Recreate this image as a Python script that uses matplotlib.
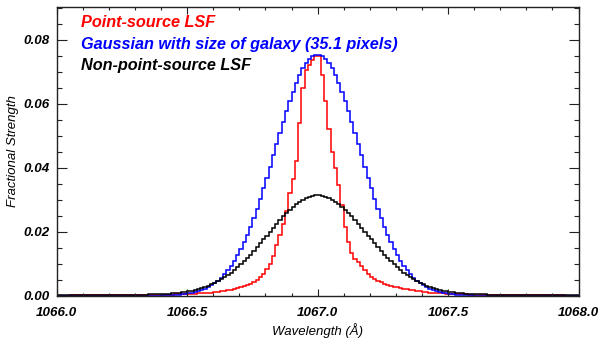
import numpy as np
import matplotlib
matplotlib.use("Agg")
import matplotlib.pyplot as plt

# ---------------- data ----------------
# coarse tail bins (1066.0-1066.4 and 1067.6-1068.0), fine bins 0.0125 A in the core
tail_left_edges = np.linspace(1066.0, 1066.4, 9)
core_edges = np.linspace(1066.4, 1067.6, 97)
tail_right_edges = np.linspace(1067.6, 1068.0, 9)

red_tail_left = [0.00006, 0.00008, 0.0001, 0.00012, 0.00014, 0.00017, 0.0002, 0.00025]
red_core = [
    0.0003, 0.0003, 0.0003, 0.0003, 0.0004, 0.0004, 0.0004, 0.0005,
    0.0005, 0.0006, 0.0006, 0.0007, 0.0007, 0.0008, 0.0009, 0.0010,
    0.0011, 0.0012, 0.0014, 0.0015, 0.0017, 0.0019, 0.0021, 0.0024,
    0.0027, 0.0030, 0.0034, 0.0038, 0.0043, 0.0049, 0.0057, 0.0068,
    0.0082, 0.0100, 0.0125, 0.0160, 0.0190, 0.0225, 0.0265, 0.0320,
    0.0365, 0.0420, 0.0540, 0.0650, 0.0705, 0.0722, 0.0737, 0.0750,
    0.0750, 0.0690, 0.0610, 0.0520, 0.0450, 0.0400, 0.0345, 0.0285,
    0.0215, 0.0168, 0.0135, 0.0115, 0.0105, 0.0092, 0.0080, 0.0069,
    0.0060, 0.0053, 0.0047, 0.0042, 0.0038, 0.0034, 0.0031, 0.0028,
    0.0026, 0.0024, 0.0022, 0.0020, 0.0018, 0.0017, 0.0015, 0.0014,
    0.0012, 0.0011, 0.0010, 0.0009, 0.0008, 0.0008, 0.0007, 0.0006,
    0.0006, 0.0005, 0.0005, 0.0004, 0.0004, 0.0004, 0.0003, 0.0003,
]
red_tail_right = [0.00025, 0.0002, 0.00017, 0.00014, 0.00012, 0.0001, 0.00008, 0.00006]

blue_tail_left = [0.0, 0.0, 0.0, 0.0, 0.0, 0.00001, 0.00003, 0.00006]
blue_core = [
    0.00009, 0.00012, 0.00016, 0.00021, 0.00027, 0.00035, 0.00045, 0.00057,
    0.00073, 0.00092, 0.00115, 0.00143, 0.00177, 0.00218, 0.00267, 0.00325,
    0.00394, 0.00473, 0.00566, 0.00673, 0.00795, 0.00933, 0.01089, 0.01264,
    0.01459, 0.01673, 0.01907, 0.02161, 0.02434, 0.02725, 0.03034, 0.03357,
    0.03693, 0.04038, 0.04389, 0.04742, 0.05093, 0.05438, 0.05771, 0.06089,
    0.06386, 0.06658, 0.06900, 0.07108, 0.07280, 0.07411, 0.07500, 0.07544,
    0.07544, 0.07500, 0.07411, 0.07280, 0.07108, 0.06900, 0.06658, 0.06386,
    0.06089, 0.05771, 0.05438, 0.05093, 0.04742, 0.04389, 0.04038, 0.03693,
    0.03357, 0.03034, 0.02725, 0.02434, 0.02161, 0.01907, 0.01673, 0.01459,
    0.01264, 0.01089, 0.00933, 0.00795, 0.00673, 0.00566, 0.00473, 0.00394,
    0.00325, 0.00267, 0.00218, 0.00177, 0.00143, 0.00115, 0.00092, 0.00073,
    0.00057, 0.00045, 0.00035, 0.00027, 0.00021, 0.00016, 0.00012, 0.00009,
]
blue_tail_right = [0.00006, 0.00003, 0.00001, 0.0, 0.0, 0.0, 0.0, 0.0]

black_tail_left = [0.0001, 0.00012, 0.00016, 0.0002, 0.00025, 0.0003, 0.00037, 0.00045]
black_core = [
    0.00053, 0.00060, 0.00067, 0.00074, 0.00084, 0.00095, 0.00108, 0.00123,
    0.00140, 0.00161, 0.00184, 0.00209, 0.00239, 0.00272, 0.00311, 0.00353,
    0.00400, 0.00452, 0.00510, 0.00573, 0.00643, 0.00717, 0.00798, 0.00885,
    0.00977, 0.01076, 0.01180, 0.01287, 0.01401, 0.01517, 0.01637, 0.01759,
    0.01881, 0.02005, 0.02128, 0.02248, 0.02366, 0.02479, 0.02588, 0.02689,
    0.02782, 0.02867, 0.02942, 0.03005, 0.03057, 0.03097, 0.03124, 0.03138,
    0.03138, 0.03124, 0.03097, 0.03057, 0.03005, 0.02942, 0.02867, 0.02782,
    0.02689, 0.02588, 0.02479, 0.02366, 0.02248, 0.02128, 0.02005, 0.01881,
    0.01759, 0.01637, 0.01517, 0.01401, 0.01287, 0.01180, 0.01076, 0.00977,
    0.00885, 0.00798, 0.00717, 0.00643, 0.00573, 0.00510, 0.00452, 0.00400,
    0.00353, 0.00311, 0.00272, 0.00239, 0.00209, 0.00184, 0.00161, 0.00140,
    0.00123, 0.00108, 0.00095, 0.00084, 0.00074, 0.00067, 0.00060, 0.00053,
]
black_tail_right = [0.00045, 0.00037, 0.0003, 0.00025, 0.0002, 0.00016, 0.00012, 0.0001]

labels = ["Point-source LSF",
          "Gaussian with size of galaxy (35.1 pixels)",
          "Non-point-source LSF"]
colors = ["#ff0000", "#0000ff", "#000000"]

xticks = [1066.0, 1066.5, 1067.0, 1067.5, 1068.0]
yticks = [0.00, 0.02, 0.04, 0.06, 0.08]

# ---------------- plot ----------------
plt.rcParams['font.family'] = ['Liberation Sans', 'DejaVu Sans']

edges = np.concatenate([tail_left_edges[:-1], core_edges, tail_right_edges[1:]])
series = [
    np.array(red_tail_left + red_core + red_tail_right),
    np.array(blue_tail_left + blue_core + blue_tail_right),
    np.array(black_tail_left + black_core + black_tail_right),
]

fig = plt.figure(figsize=(5.98, 3.43), dpi=100)
ax = fig.add_axes([0.0948, 0.1379, 0.8726, 0.8426])

for vals, c in zip(series, colors):
    ax.stairs(vals, edges, color=c, lw=1.1, baseline=None)

ax.set_xlim(1066.0, 1068.0)
ax.set_ylim(0.0, 0.0904)
ax.set_xticks(xticks)
ax.set_xticklabels([f"{t:.1f}" for t in xticks])
ax.set_yticks(yticks)
ax.set_yticklabels([f"{t:.2f}" for t in yticks])
ax.set_xticks(np.arange(1066.0, 1068.001, 0.1), minor=True)
ax.set_yticks(np.arange(0.0, 0.0901, 0.005), minor=True)

ax.tick_params(which='both', direction='in', top=True, right=True, color='#222222')
ax.tick_params(axis='y', which='major', length=7.2, width=0.8)
ax.tick_params(axis='y', which='minor', length=3.6, width=0.8)
ax.tick_params(axis='x', which='major', length=5.0, width=0.8)
ax.tick_params(axis='x', which='minor', length=2.5, width=0.8)
ax.tick_params(axis='x', which='major', pad=8)
ax.tick_params(axis='y', which='major', pad=5)
for lab in ax.get_xticklabels() + ax.get_yticklabels():
    lab.set_fontsize(9.6)
    lab.set_fontweight('bold')
    lab.set_fontstyle('italic')
for sp in ax.spines.values():
    sp.set_linewidth(1.0)
    sp.set_color('#222222')

ax.set_xlabel("Wavelength (Å)", fontsize=9.5, fontstyle='italic', labelpad=3)
ax.set_ylabel("Fractional Strength", fontsize=9.5, fontstyle='italic', labelpad=3)

for i, (lab, c) in enumerate(zip(labels, colors)):
    ax.text(0.047, 0.972 - i * 0.0755, lab, transform=ax.transAxes, color=c,
            fontsize=11.7, fontweight='bold', fontstyle='italic', va='top', ha='left')

fig.savefig("out.png", dpi=100)
